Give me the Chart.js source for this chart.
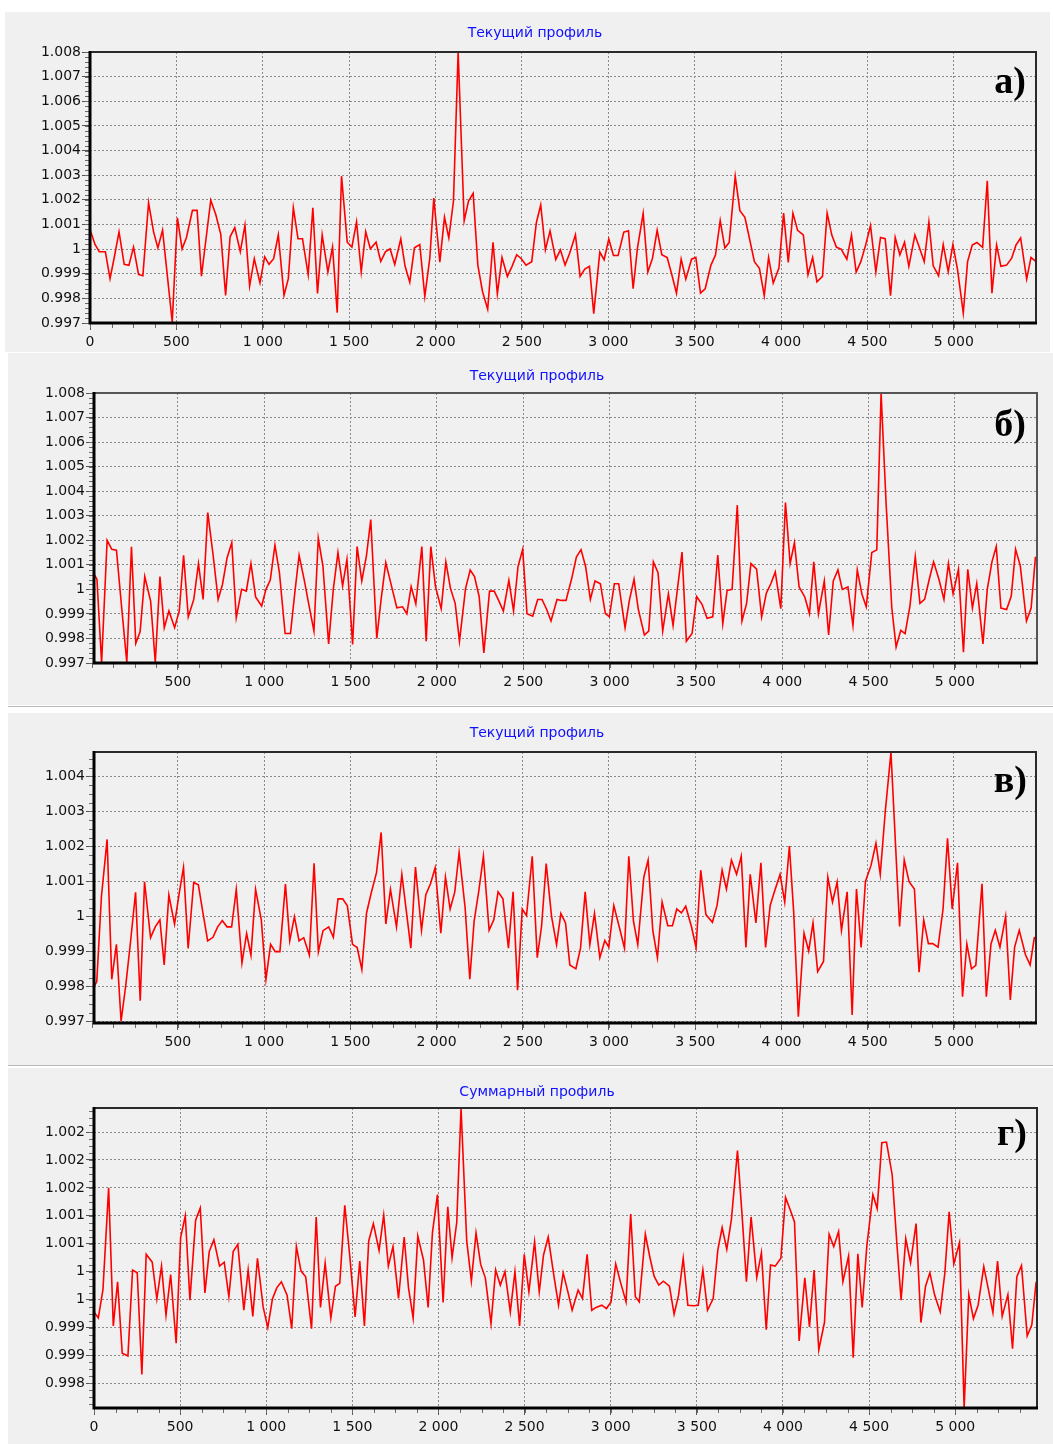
<!DOCTYPE html>
<html lang="ru">
<head>
<meta charset="utf-8">
<title>Профили</title>
<script src="https://cdn.jsdelivr.net/npm/chart.js@4.4.1/dist/chart.umd.min.js"></script>
<style>
  html, body { margin: 0; padding: 0; background: #ffffff; }
  body { position: relative; width: 1053px; height: 1444px; overflow: hidden; }
  .box { position: absolute; background: #f0f0f0; }
  .box canvas { position: absolute; left: 0; top: 0; }
  .sep { position: absolute; left: 8px; width: 1045px; height: 1px; background: #b9b9b9; }
</style>
</head>
<body>
<div class="box" style="left:5px;top:12px;width:1045px;height:340px"><canvas id="chartA" width="1045" height="340"></canvas></div>
<div class="box" style="left:8px;top:353px;width:1045px;height:352px"><canvas id="chartB" width="1045" height="352"></canvas></div>
<div class="sep" style="top:706px"></div>
<div class="box" style="left:8px;top:713px;width:1045px;height:352px"><canvas id="chartC" width="1045" height="352"></canvas></div>
<div class="sep" style="top:1065px"></div>
<div class="box" style="left:8px;top:1068px;width:1045px;height:376px"><canvas id="chartD" width="1045" height="376"></canvas></div>

<script>
// ---- Titles ----
const TITLE_CURRENT = 'Текущий профиль';
const TITLE_SUM = 'Суммарный профиль';

// ---- Panel а): current profile ----
const distA = [0,29,54,89,116,142,168,198,225,252,281,306,339,368,393,420,448,476,506,533,558,593,620,645,672,699,728,757,785,811,838,870,897,924,951,984,1011,1036,1063,1090,1123,1148,1177,1204,1230,1263,1290,1317,1344,1377,1404,1431,1456,1489,1516,1543,1570,1596,1623,1656,1683,1710,1737,1764,1799,1824,1851,1878,1909,1938,1967,1990,2025,2052,2077,2104,2131,2166,2191,2218,2245,2272,2302,2333,2358,2385,2416,2443,2470,2497,2524,2557,2584,2609,2636,2663,2696,2723,2750,2777,2810,2837,2864,2891,2916,2951,2976,3003,3030,3057,3090,3117,3144,3169,3202,3229,3256,3283,3310,3341,3368,3395,3422,3449,3482,3507,3534,3561,3594,3621,3648,3675,3700,3735,3762,3791,3819,3846,3875,3903,3928,3955,3988,4015,4042,4069,4096,4129,4156,4183,4208,4240,4267,4294,4321,4348,4381,4408,4435,4462,4489,4518,4549,4576,4603,4634,4661,4688,4715,4740,4775,4802,4829,4856,4881,4912,4939,4968,4995,5022,5055,5080,5107,5134,5167,5194,5221,5248,5273,5306,5335,5360,5387,5422,5447,5476];
const profA = [1.0008,1.00019,0.99989,0.99989,0.9988,0.99972,1.0007,0.99938,0.99934,1.00008,0.99897,0.99892,1.00188,1.0007,1.00005,1.00077,0.9989,0.99704,1.00127,1.00001,1.00046,1.00157,1.00157,0.9989,1.00044,1.00198,1.0014,1.0006,0.99812,1.0005,1.00087,0.99989,1.00097,0.9985,0.99961,0.99863,0.99969,0.99938,0.99961,1.00058,0.99812,0.9988,1.00168,1.00042,1.00042,0.99896,1.00168,0.9982,1.00058,0.99907,1.00008,0.99742,1.00296,1.00028,1.00008,1.00111,0.99907,1.0007,1.00001,1.00028,0.9995,0.99989,1.00001,0.99938,1.00041,0.9993,0.99866,1.00005,1.00018,0.99808,0.99963,1.00207,0.99947,1.00129,1.00045,1.00195,1.008,1.00115,1.00195,1.00226,0.99935,0.99828,0.99756,1.00028,0.99818,0.99966,0.99889,0.9993,0.99977,0.99961,0.99935,0.99949,1.00108,1.00179,0.99997,1.00074,0.99958,0.99997,0.99935,0.99984,1.00058,0.99889,0.99919,0.9993,0.99738,0.99988,0.99957,1.00041,0.99974,0.99974,1.00069,1.00074,0.99839,1.00004,1.00145,0.99907,0.99963,1.00076,0.99977,0.99966,0.99896,0.99821,0.99959,0.99878,0.99959,0.99966,0.99821,0.99839,0.99934,0.99977,1.00116,1.00004,1.00027,1.00295,1.00156,1.00129,1.00038,0.99949,0.99922,0.99811,0.99966,0.99862,0.99923,1.00146,0.99946,1.00146,1.00076,1.00058,0.99896,0.99966,0.99867,0.99889,1.00146,1.00057,1.00007,1.0,0.99959,1.00057,0.99907,0.99949,1.00014,1.00096,0.99907,1.00047,1.00042,0.99811,1.00047,0.99977,1.00028,0.9993,1.00057,1.00004,0.99949,1.0011,0.99932,0.99892,1.00018,0.99908,1.00018,0.99916,0.9974,0.99949,1.00016,1.00027,1.00007,1.00277,0.99821,1.00016,0.9993,0.99935,0.99963,1.00016,1.00045,0.99878,0.99966,0.99949];

// ---- Panel б): current profile ----
const distB = [15,31,58,90,117,144,175,204,231,256,281,308,342,369,396,421,448,481,508,533,560,592,619,646,673,704,733,758,785,812,838,869,896,923,950,985,1010,1035,1062,1088,1121,1152,1177,1202,1231,1260,1288,1313,1340,1373,1400,1427,1454,1479,1512,1538,1565,1592,1617,1652,1677,1704,1737,1768,1801,1826,1851,1878,1913,1938,1965,1992,2025,2052,2079,2106,2131,2166,2193,2218,2245,2272,2305,2332,2357,2385,2417,2444,2470,2497,2522,2555,2584,2609,2636,2661,2696,2721,2748,2781,2808,2835,2862,2889,2916,2947,2976,2999,3028,3053,3090,3115,3142,3167,3202,3227,3254,3281,3308,3341,3368,3393,3420,3445,3478,3505,3535,3565,3598,3627,3656,3681,3710,3740,3767,3794,3819,3852,3881,3908,3935,3960,3992,4019,4046,4071,4098,4131,4158,4183,4210,4244,4269,4296,4323,4348,4381,4410,4435,4462,4487,4519,4548,4573,4602,4635,4660,4687,4712,4740,4771,4798,4825,4852,4877,4908,4937,4963,4990,5021,5050,5075,5102,5127,5163,5188,5215,5240,5267,5300,5327,5352,5379,5415,5442,5467];
const profB = [1.00061,1.00041,0.997,1.002,1.00163,1.0016,0.9992,0.99703,1.00173,0.9978,0.99827,1.00052,0.99952,0.99703,1.00052,0.99844,0.99912,0.99844,0.99912,1.00139,0.99888,0.99959,1.00105,0.99959,1.00313,1.00139,0.99959,1.0002,1.00129,1.0019,0.99884,1.0,0.99993,1.00105,0.99969,0.99932,1.0,1.00038,1.0018,1.00068,0.9982,0.9982,0.99986,1.00139,1.00041,0.99932,0.9983,1.00208,1.00095,0.99778,1.0,1.0015,1.00014,1.00122,0.99776,1.00174,1.00034,1.00136,1.00284,0.998,0.99959,1.00109,1.00014,0.99925,0.99929,0.99901,1.00011,0.99941,1.00174,0.99789,1.00174,1.00011,0.99921,1.00112,1.00003,0.99943,0.99789,1.00003,1.00079,1.00052,0.9997,0.99741,0.99993,0.99993,0.99956,0.99912,1.00037,0.99912,1.00093,1.00163,0.99901,0.99891,0.99959,0.99959,0.99918,0.99871,0.99959,0.99955,0.99955,1.00044,1.00132,1.00162,1.00091,0.99959,1.00034,1.00023,0.99901,0.99888,1.00023,1.00023,0.99844,0.99955,1.00041,0.99918,0.99814,0.9983,1.00112,1.00068,0.9983,0.99982,0.99853,1.0,1.00152,0.99789,0.9982,0.9997,0.9994,0.99882,0.99888,1.0014,0.9986,0.99995,1.0,1.00343,0.99871,0.99943,1.00105,1.00082,0.99888,0.99984,1.00024,1.00071,0.99921,1.00354,1.00105,1.0019,1.0001,0.99969,0.99901,1.00112,0.99901,1.00034,0.99814,1.00034,1.00079,1.0,1.0001,0.99853,1.00079,0.9998,0.99929,1.0015,1.00161,1.008,1.0035,0.99925,0.99765,0.99833,0.9982,0.99932,1.00133,0.99943,0.99959,1.00041,1.00112,1.00041,0.99959,1.00105,0.99982,1.00082,0.99744,1.00082,0.99924,1.00024,0.99778,1.0,1.00112,1.00174,0.99924,0.99918,0.99973,1.00163,1.00097,0.99871,0.99924,1.00133];

// ---- Panel в): current profile ----
const distC = [14,30,57,90,117,144,171,198,226,255,282,307,342,369,396,421,448,481,508,533,560,592,619,646,673,704,731,758,785,812,839,872,899,924,951,984,1011,1038,1065,1092,1124,1149,1176,1203,1230,1263,1290,1315,1342,1375,1402,1429,1456,1483,1513,1540,1567,1594,1621,1652,1679,1706,1733,1768,1799,1824,1851,1878,1913,1938,1965,1992,2025,2052,2079,2106,2131,2166,2193,2218,2245,2272,2305,2332,2357,2385,2417,2444,2470,2497,2522,2555,2584,2609,2636,2667,2696,2721,2748,2773,2808,2835,2862,2889,2916,2947,2976,2999,3028,3059,3090,3115,3142,3167,3202,3227,3254,3281,3308,3341,3368,3393,3420,3445,3478,3505,3532,3562,3600,3627,3656,3681,3710,3740,3767,3794,3819,3852,3881,3908,3935,3960,3992,4019,4046,4071,4098,4131,4158,4183,4210,4244,4269,4296,4323,4348,4381,4410,4435,4462,4487,4519,4548,4573,4602,4635,4660,4685,4712,4740,4771,4798,4825,4852,4877,4908,4937,4963,4990,5021,5050,5075,5102,5127,5163,5188,5215,5240,5267,5300,5327,5352,5379,5415,5442,5467];
const profC = [0.99799,0.99813,1.00056,1.0022,0.9982,0.9992,0.997,0.99802,0.99928,1.00069,0.99759,1.00099,0.99939,0.9997,0.9999,0.99861,1.00061,0.99978,1.00066,1.0014,0.99908,1.00097,1.0009,1.00009,0.9993,0.9994,0.9997,0.99988,0.9997,0.9997,1.00077,0.99867,0.99951,0.99889,1.00077,0.9999,0.9982,0.9992,0.99899,0.99899,1.00092,0.9993,0.99999,0.9993,0.99939,0.99889,1.00152,0.99899,0.99959,0.9997,0.9994,1.0005,1.0005,1.0003,0.9992,0.99911,0.99848,1.00009,1.00066,1.00125,1.0024,0.99978,1.00077,0.9997,1.0012,1.00019,0.99909,1.00141,0.9996,1.00062,1.00093,1.00139,0.99952,1.00112,1.00021,1.0007,1.00182,1.00024,0.9982,0.99986,1.00072,1.00172,0.9996,0.9999,1.0007,1.0005,0.99909,1.0007,0.99789,1.00021,1.00002,1.00172,0.99882,0.99971,1.00151,1.0,0.99919,1.00008,0.99981,0.99861,0.9985,0.99909,1.0007,0.99919,1.00008,0.99882,0.99931,0.99912,1.00031,0.99971,0.99909,1.00172,0.99986,0.99919,1.00112,1.00161,0.9996,0.99882,1.00041,0.99973,0.99973,1.00021,1.0001,1.00029,0.99971,0.99911,1.00132,1.00005,0.99983,1.00032,1.00132,1.00078,1.00161,1.0012,1.00172,0.99911,1.0012,0.99981,1.00153,0.99911,1.00032,1.00072,1.0012,1.00041,1.00201,1.00012,0.99713,0.99952,0.99901,0.99981,0.99842,0.99871,1.00112,1.00041,1.00098,0.9996,1.0007,0.99718,1.00078,0.99911,1.001,1.00145,1.00209,1.0012,1.003,1.00469,1.0022,0.99971,1.00161,1.00099,1.00078,0.9984,0.99989,0.99922,0.99922,0.99912,1.00021,1.00223,1.00021,1.00153,0.9977,0.99921,0.9985,0.9986,1.00093,0.9977,0.99921,0.9996,0.99912,1.0,0.99761,0.99912,0.9996,0.9989,0.99861,0.99941];

// ---- Panel г): summed profile ----
const distD = [0,25,52,85,112,137,164,197,224,251,278,303,338,365,392,418,445,477,503,530,557,590,617,644,669,696,729,756,783,808,835,870,895,922,949,982,1009,1036,1061,1088,1121,1148,1175,1202,1229,1263,1290,1315,1342,1375,1402,1427,1456,1485,1516,1543,1570,1595,1622,1655,1682,1709,1736,1768,1801,1826,1853,1880,1913,1940,1965,1994,2027,2054,2079,2106,2131,2164,2191,2218,2245,2272,2305,2332,2359,2386,2417,2444,2471,2498,2525,2558,2585,2610,2637,2670,2697,2724,2749,2776,2811,2836,2863,2890,2915,2948,2975,3002,3029,3058,3089,3116,3143,3166,3201,3228,3252,3279,3306,3341,3368,3394,3421,3448,3481,3508,3535,3562,3595,3622,3647,3674,3701,3736,3763,3788,3815,3848,3875,3903,3928,3955,3988,4015,4042,4067,4094,4127,4154,4181,4208,4241,4268,4295,4323,4348,4381,4408,4435,4460,4487,4522,4547,4574,4601,4634,4661,4686,4713,4741,4773,4801,4828,4853,4880,4913,4940,4965,4992,5025,5052,5079,5106,5133,5166,5193,5219,5246,5273,5306,5333,5358,5385,5418,5445,5470];
const profD = [0.99928,0.99917,0.99968,1.0015,0.99903,0.99982,0.99854,0.99849,1.00003,0.99998,0.99816,1.00031,1.00017,0.99951,1.0001,0.99922,0.99995,0.99872,1.00061,1.001,0.99949,1.00092,1.00114,0.99962,1.00036,1.00057,1.0001,1.00017,0.99955,1.00036,1.00049,0.99931,1.00003,0.9992,1.00024,0.99937,0.999,0.99951,0.99971,0.99982,0.99958,0.99898,1.00045,1.00001,0.99991,0.99898,1.00098,0.99936,1.00015,0.99917,0.99974,0.99979,1.00119,1.00028,0.99919,1.00019,0.99903,1.00055,1.00086,1.00038,1.00101,1.0001,1.00045,0.99952,1.00062,0.99971,0.99917,1.00064,1.00021,0.99936,1.0007,1.00138,0.99945,1.00116,1.00025,1.00088,1.00293,1.00055,0.99983,1.00069,1.00013,0.99989,0.99907,1.00003,0.99976,1.0,0.99928,1.0,0.99903,1.00031,0.99964,1.00053,0.99964,1.0003,1.00062,0.99993,0.9994,0.99998,0.99967,0.99931,0.99967,0.99952,1.00031,0.99931,0.99936,0.9994,0.99934,0.99946,1.00014,0.9998,0.99946,1.00103,0.99955,0.99946,1.00067,1.00025,0.99992,0.99976,0.99983,0.99974,0.99924,0.99958,1.00024,0.9994,0.99939,0.9994,1.00003,0.99931,0.99952,1.00039,1.00079,1.0004,1.00094,1.00217,1.001,0.99982,1.00098,0.9999,1.00034,0.99896,1.00012,1.0001,1.00024,1.00133,1.00111,1.00089,0.99876,0.99989,0.99901,1.00003,0.9986,0.99909,1.00067,1.00045,1.00072,0.99982,1.00028,0.99846,1.00032,0.99936,1.00046,1.00138,1.00113,1.00231,1.00232,1.00174,1.00052,0.99949,1.00059,1.00016,1.00086,0.99909,0.99974,0.99998,0.99959,0.99928,0.99998,1.00107,1.00014,1.00052,0.99756,0.99959,0.99916,0.9994,1.00009,0.99968,0.99927,1.00019,0.9992,0.99959,0.99862,0.99991,1.00011,0.99885,0.99905,0.99982];

// ---- Axis ticks and their labels ----
const xTicksFull = [0, 500, 1000, 1500, 2000, 2500, 3000, 3500, 4000, 4500, 5000];
const xTicksNoZero = [500, 1000, 1500, 2000, 2500, 3000, 3500, 4000, 4500, 5000];
const yTicksAB = [0.997, 0.998, 0.999, 1.000, 1.001, 1.002, 1.003, 1.004, 1.005, 1.006, 1.007, 1.008];
const yLabelsAB = ['0.997', '0.998', '0.999', '1', '1.001', '1.002', '1.003', '1.004', '1.005', '1.006', '1.007', '1.008'];
const yTicksC = [0.997, 0.998, 0.999, 1.000, 1.001, 1.002, 1.003, 1.004];
const yLabelsC = ['0.997', '0.998', '0.999', '1', '1.001', '1.002', '1.003', '1.004'];
const yTicksD = [0.998, 0.9985, 0.999, 0.9995, 1.000, 1.0005, 1.001, 1.0015, 1.002, 1.0025];
const yLabelsD = ['0.998', '0.999', '0.999', '1', '1', '1.001', '1.001', '1.002', '1.002', '1.002'];
const panelLetters = ['а)', 'б)', 'в)', 'г)'];

// thousands separated by a space: 1 500, 5 000
function fmtDistance(v) {
  if (v < 1000) return String(v);
  return Math.floor(v / 1000) + ' ' + String(v % 1000).padStart(3, '0');
}

// minor tick positions between (and beyond) the labelled ticks
function minorPositions(majors, parts, min, max) {
  const step = (majors[1] - majors[0]) / parts;
  const out = [];
  let v = majors[0];
  while (v - step >= min - 1e-9) v -= step;
  for (; v <= max + 1e-9; v += step) out.push(v);
  return out;
}

// frame, minor ticks, title and panel letter
const panelDecor = {
  id: 'panelDecor',
  afterDraw(chart, args, o) {
    const { ctx, chartArea: a, scales: { x, y } } = chart;
    ctx.save();
    // minor ticks
    ctx.strokeStyle = '#6a6a6a';
    ctx.lineWidth = 1;
    ctx.beginPath();
    for (const v of o.yMinor) {
      const p = Math.round(y.getPixelForValue(v)) + 0.5;
      ctx.moveTo(a.left - 5, p); ctx.lineTo(a.left, p);
    }
    for (const v of o.xMinor) {
      const p = Math.round(x.getPixelForValue(v)) + 0.5;
      ctx.moveTo(p, a.bottom); ctx.lineTo(p, a.bottom + 5);
    }
    ctx.stroke();
    // frame: thin top/right, heavy left/bottom
    ctx.strokeStyle = o.frameColor;
    ctx.lineWidth = 2;
    ctx.beginPath();
    ctx.moveTo(a.left, a.top); ctx.lineTo(a.right, a.top); ctx.lineTo(a.right, a.bottom);
    ctx.stroke();
    ctx.strokeStyle = '#000000';
    ctx.lineWidth = 3;
    ctx.beginPath();
    ctx.moveTo(a.left, a.top - 1); ctx.lineTo(a.left, a.bottom); ctx.lineTo(a.right + 1, a.bottom);
    ctx.stroke();
    // title
    ctx.fillStyle = '#1010ff';
    ctx.font = '14px "DejaVu Sans"';
    ctx.textAlign = 'center';
    ctx.textBaseline = 'middle';
    ctx.fillText(o.title, o.titleX, o.titleY);
    // panel letter
    ctx.fillStyle = '#000000';
    ctx.font = 'bold 38px "Liberation Serif"';
    ctx.textAlign = 'right';
    ctx.textBaseline = 'alphabetic';
    ctx.fillText(o.letter, o.letterX, o.letterY);
    ctx.restore();
  }
};

function buildPanel(canvasId, p) {
  const points = p.dist.map((d, i) => ({ x: d, y: p.prof[i] }));
  return new Chart(document.getElementById(canvasId), {
    type: 'line',
    data: {
      datasets: [{
        data: points,
        borderColor: '#ff0000',
        borderWidth: 1.6,
        pointRadius: 0,
        tension: 0,
        fill: false
      }]
    },
    plugins: [panelDecor],
    options: {
      responsive: false,
      animation: false,
      devicePixelRatio: 1,
      layout: { padding: { left: 0, top: p.padTop, right: p.padRight, bottom: 0 } },
      plugins: {
        legend: { display: false },
        tooltip: { enabled: false },
        panelDecor: {
          yMinor: minorPositions(p.yTicks, p.yParts, p.yMin, p.yMax),
          xMinor: minorPositions([0, 500], 4, p.xMin, p.xMax),
          frameColor: p.frameColor,
          title: p.title, titleX: p.titleX, titleY: p.titleY,
          letter: p.letter, letterX: p.letterX, letterY: p.letterY
        }
      },
      scales: {
        x: {
          type: 'linear',
          min: p.xMin, max: p.xMax,
          afterFit: s => { s.height = p.xAxisH; },
          afterBuildTicks: s => { s.ticks = p.xTicks.map(v => ({ value: v })); },
          ticks: {
            autoSkip: false, maxRotation: 0, padding: 4, color: '#111',
            font: { family: 'DejaVu Sans', size: 14 },
            callback: v => fmtDistance(v)
          },
          grid: { color: '#8a8a8a', lineWidth: 1, drawTicks: true, tickLength: 7, tickColor: '#555', tickWidth: 1 },
          border: { display: false, dash: [2, 2] }
        },
        y: {
          type: 'linear',
          min: p.yMin, max: p.yMax,
          afterFit: s => { s.width = p.yAxisW; },
          afterBuildTicks: s => { s.ticks = p.yTicks.map(v => ({ value: v })); },
          ticks: {
            autoSkip: false, padding: 1, color: '#111',
            font: { family: 'DejaVu Sans', size: 14 },
            callback: (v, i) => p.yLabels[i]
          },
          grid: { color: '#8a8a8a', lineWidth: 1, drawTicks: true, tickLength: 8, tickColor: '#555', tickWidth: 1 },
          border: { display: false, dash: [2, 2] }
        }
      }
    }
  });
}

buildPanel('chartA', {
  dist: distA, prof: profA,
  xMin: 0, xMax: 5476, xTicks: xTicksFull,
  yMin: 0.997, yMax: 1.008, yTicks: yTicksAB, yLabels: yLabelsAB, yParts: 5,
  yAxisW: 85, padTop: 40, padRight: 14, xAxisH: 29,
  frameColor: '#2a2a2a',
  title: TITLE_CURRENT, titleX: 530, titleY: 21,
  letter: panelLetters[0], letterX: 1021, letterY: 81
});

buildPanel('chartB', {
  dist: distB, prof: profB,
  xMin: 14, xMax: 5476, xTicks: xTicksNoZero,
  yMin: 0.997, yMax: 1.008, yTicks: yTicksAB, yLabels: yLabelsAB, yParts: 5,
  yAxisW: 86, padTop: 40, padRight: 16, xAxisH: 42,
  frameColor: '#555555',
  title: TITLE_CURRENT, titleX: 529, titleY: 23,
  letter: panelLetters[1], letterX: 1018, letterY: 83
});

buildPanel('chartC', {
  dist: distC, prof: profC,
  xMin: 14, xMax: 5476, xTicks: xTicksNoZero,
  yMin: 0.99695, yMax: 1.0047, yTicks: yTicksC, yLabels: yLabelsC, yParts: 4,
  yAxisW: 86, padTop: 39, padRight: 17, xAxisH: 42,
  frameColor: '#2a2a2a',
  title: TITLE_CURRENT, titleX: 529, titleY: 20,
  letter: panelLetters[2], letterX: 1019, letterY: 79
});

buildPanel('chartD', {
  dist: distD, prof: profD,
  xMin: 0, xMax: 5475, xTicks: xTicksFull,
  yMin: 0.99756, yMax: 1.00293, yTicks: yTicksD, yLabels: yLabelsD, yParts: 4,
  yAxisW: 86, padTop: 40, padRight: 16, xAxisH: 36,
  frameColor: '#2a2a2a',
  title: TITLE_SUM, titleX: 529, titleY: 24,
  letter: panelLetters[3], letterX: 1019, letterY: 77
});
</script>
</body>
</html>
